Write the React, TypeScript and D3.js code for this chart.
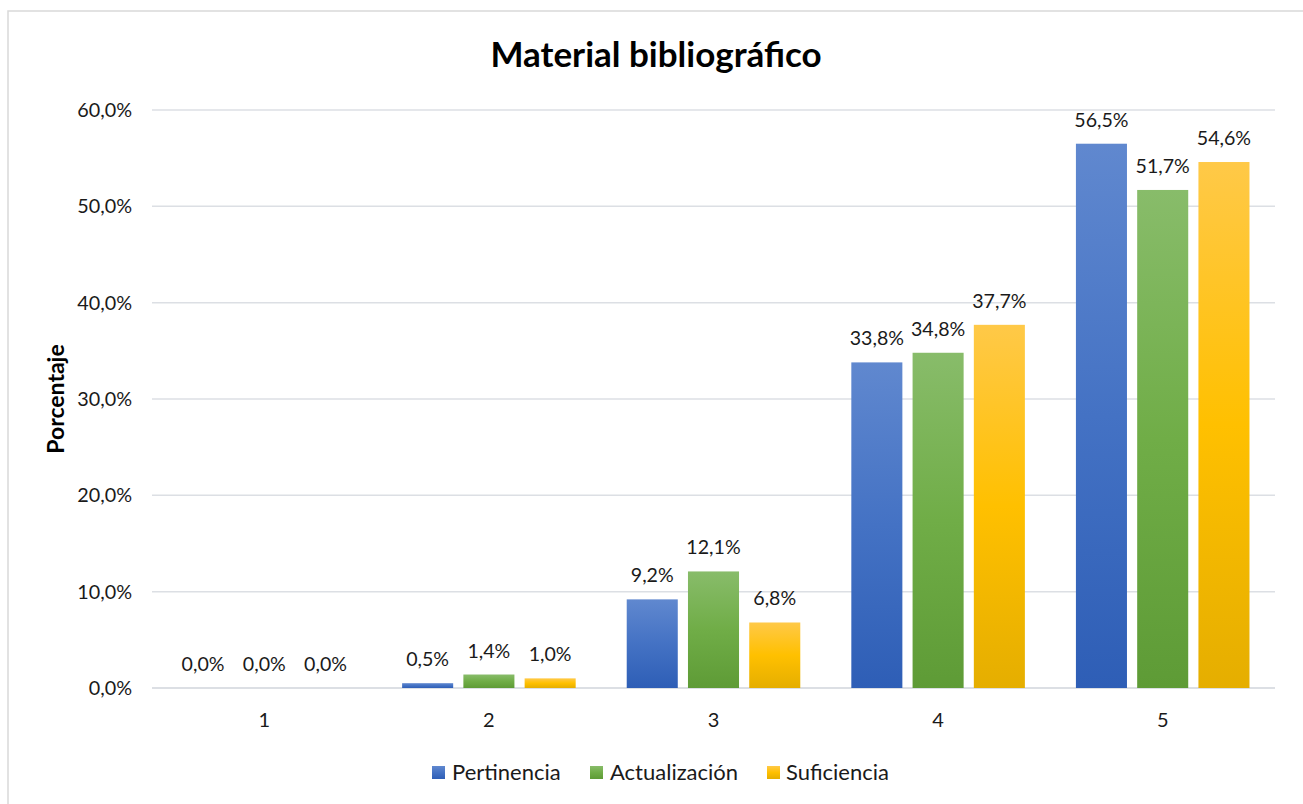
import React from "react";
import * as d3 from "d3";

const categories = ["1", "2", "3", "4", "5"];
const seriesNames = ["Pertinencia", "Actualización", "Suficiencia"];
const pertinencia = [0.0, 0.5, 9.2, 33.8, 56.5];
const actualizacion = [0.0, 1.4, 12.1, 34.8, 51.7];
const suficiencia = [0.0, 1.0, 6.8, 37.7, 54.6];
const yTicks = [0, 10, 20, 30, 40, 50, 60];

const seriesValues = [pertinencia, actualizacion, suficiencia];
const gradients = [
  ["#6088CF", "#4472C4", "#2E5EB6"],
  ["#88BC6A", "#70AD47", "#5E9B36"],
  ["#FFC948", "#FFC000", "#E5AE00"],
];

const W = 1303;
const H = 804;
const FONT = "Lato, 'Open Sans', sans-serif";

export default function App() {
  const x0 = d3.scaleBand<string>().domain(categories).range([152, 1275]).paddingInner(0).paddingOuter(0);
  const bw = x0.bandwidth();
  const barW = bw / 4.4;
  const x1 = d3
    .scaleBand<string>()
    .domain(seriesNames)
    .range([barW * 0.5, bw - barW * 0.5])
    .paddingInner(0.2 / 1.2)
    .paddingOuter(0);
  const y = d3.scaleLinear().domain([0, 60]).range([688, 110]);
  const fmt = (v: number) => v.toFixed(1).replace(".", ",") + "%";

  const legendItems = [
    { x: 432, textX: 452 },
    { x: 590, textX: 610 },
    { x: 767, textX: 786 },
  ];

  return (
    <svg
      width={W}
      height={H}
      style={{ position: "absolute", left: 0, top: 0, display: "block", background: "#fff" }}
    >
      <defs>
        {gradients.map((g, i) => (
          <linearGradient key={i} id={`grad${i}`} x1="0" y1="0" x2="0" y2="1">
            <stop offset="0" stopColor={g[0]} />
            <stop offset="0.5" stopColor={g[1]} />
            <stop offset="1" stopColor={g[2]} />
          </linearGradient>
        ))}
      </defs>
      <rect x={8} y={11} width={1310} height={820} fill="#fff" stroke="#D9D9D9" strokeWidth={1.5} />
      <text
        x={656}
        y={67}
        textAnchor="middle"
        fontFamily={FONT}
        fontWeight="bold"
        fontSize={35}
        fill="#000"
      >
        Material bibliográfico
      </text>
      {yTicks.map((t) => (
        <g key={t}>
          <line
            x1={152}
            x2={1275}
            y1={y(t)}
            y2={y(t)}
            stroke="#DCDFE4"
            strokeWidth={t === 0 ? 2 : 1.5}
          />
          <text
            x={132}
            y={y(t)}
            dy="0.36em"
            textAnchor="end"
            fontFamily={FONT}
            fontSize={19.8}
            fill="#1a1a1a"
          >
            {fmt(t)}
          </text>
        </g>
      ))}
      <text
        transform={`translate(64,399) rotate(-90)`}
        textAnchor="middle"
        fontFamily={FONT}
        fontWeight="bold"
        fontSize={23}
        fill="#000"
      >
        Porcentaje
      </text>
      {categories.map((c, ci) => (
        <g key={c} transform={`translate(${x0(c)},0)`}>
          {seriesNames.map((s, si) => {
            const v = seriesValues[si][ci];
            const bx = x1(s)!;
            const by = y(v);
            return (
              <g key={s}>
                {v > 0 && (
                  <rect
                    x={bx}
                    y={by}
                    width={x1.bandwidth()}
                    height={y(0) - by}
                    fill={`url(#grad${si})`}
                  />
                )}
                <text
                  x={bx + x1.bandwidth() / 2}
                  y={by - 17}
                  textAnchor="middle"
                  fontFamily={FONT}
                  fontSize={19.6}
                  fill="#1a1a1a"
                >
                  {fmt(v)}
                </text>
              </g>
            );
          })}
          <text
            x={bw / 2}
            y={727}
            textAnchor="middle"
            fontFamily={FONT}
            fontSize={20}
            fill="#1a1a1a"
          >
            {c}
          </text>
        </g>
      ))}
      {seriesNames.map((s, i) => (
        <g key={s}>
          <rect x={legendItems[i].x} y={766} width={13} height={13} fill={`url(#grad${i})`} />
          <text
            x={legendItems[i].textX}
            y={780}
            fontFamily={FONT}
            fontSize={22}
            fill="#1a1a1a"
          >
            {s}
          </text>
        </g>
      ))}
    </svg>
  );
}
